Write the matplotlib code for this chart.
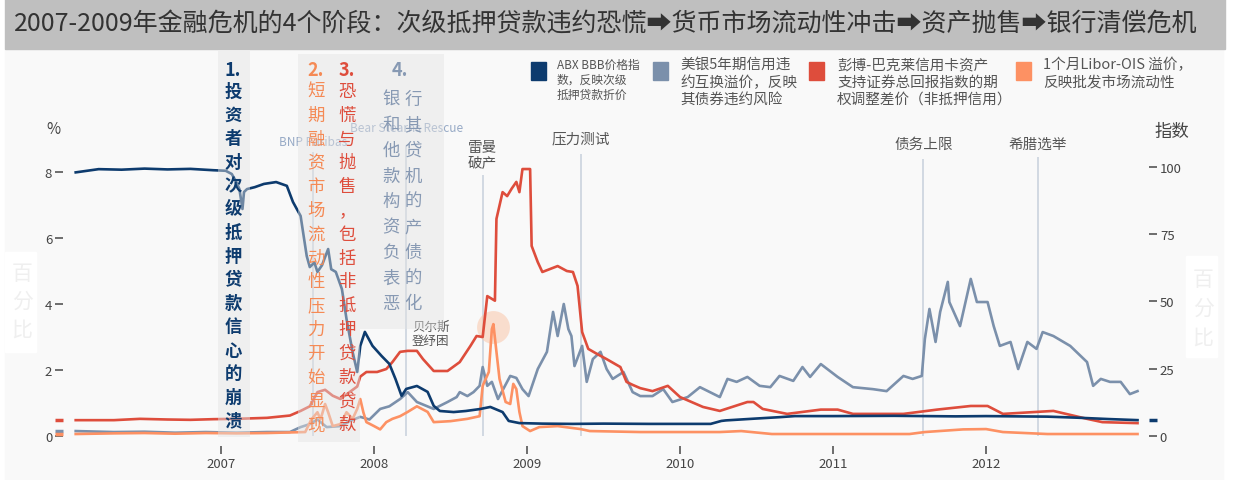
import matplotlib
matplotlib.use("Agg")
import matplotlib.pyplot as plt
from matplotlib.patches import Rectangle
from matplotlib.transforms import blended_transform_factory

plt.rcParams['font.family'] = ['Noto Sans CJK SC', 'DejaVu Sans']

# ABX BBB 价格指数（右轴，指数）
abx = [(2006.05, 98.0), (2006.20, 99.2), (2006.35, 99.0), (2006.50, 99.4), (2006.65, 99.1),
       (2006.80, 99.3), (2006.95, 98.8), (2007.03, 98.6), (2007.07, 97.4), (2007.10, 94.4),
       (2007.12, 91.8), (2007.14, 84.4), (2007.15, 90.7), (2007.17, 91.8), (2007.22, 92.5),
       (2007.28, 93.7), (2007.36, 94.4), (2007.43, 93.0), (2007.47, 87.0), (2007.52, 81.8),
       (2007.54, 74.3), (2007.56, 66.9), (2007.58, 62.8), (2007.61, 64.5), (2007.63, 61.0),
       (2007.66, 63.5), (2007.70, 69.5), (2007.72, 62.0), (2007.75, 61.0), (2007.79, 54.6),
       (2007.82, 43.5), (2007.86, 31.2), (2007.89, 23.8), (2007.91, 33.5), (2007.94, 38.7),
       (2007.99, 33.5), (2008.05, 29.7), (2008.10, 26.8), (2008.14, 21.2), (2008.18, 14.9),
       (2008.21, 17.5), (2008.28, 18.6), (2008.35, 16.4), (2008.39, 11.2), (2008.43, 9.3),
       (2008.52, 8.9), (2008.60, 9.3), (2008.69, 10.0), (2008.76, 10.8), (2008.84, 8.9),
       (2008.88, 5.6), (2008.95, 4.8), (2009.10, 4.6), (2009.30, 4.5), (2009.50, 4.6),
       (2009.80, 4.5), (2010.20, 4.5), (2010.27, 5.6), (2010.30, 5.8), (2010.50, 6.5),
       (2010.65, 7.0), (2010.75, 7.4), (2011.00, 7.4), (2011.40, 7.5), (2011.80, 7.3),
       (2012.00, 7.4), (2012.40, 7.2), (2012.60, 6.8), (2012.80, 6.3), (2012.99, 5.9)]

# 彭博-巴克莱信用卡ABS期权调整差价（左轴，%）
card_oas = [(2006.05, 0.48), (2006.30, 0.48), (2006.47, 0.52), (2006.65, 0.50), (2006.80, 0.49),
            (2006.95, 0.51), (2007.10, 0.52), (2007.30, 0.55), (2007.45, 0.62), (2007.52, 0.76),
            (2007.58, 0.90), (2007.63, 1.33), (2007.68, 1.40), (2007.73, 1.22), (2007.78, 1.12),
            (2007.84, 1.33), (2007.89, 1.50), (2007.91, 1.80), (2007.95, 1.94), (2008.02, 1.94),
            (2008.08, 2.03), (2008.12, 2.24), (2008.17, 2.55), (2008.22, 2.58), (2008.28, 2.58),
            (2008.32, 2.33), (2008.39, 1.97), (2008.48, 1.97), (2008.56, 2.24), (2008.63, 2.73),
            (2008.67, 3.03), (2008.71, 3.00), (2008.74, 4.24), (2008.79, 4.10), (2008.80, 6.58),
            (2008.84, 7.39), (2008.87, 7.27), (2008.90, 7.50), (2008.93, 7.70), (2008.95, 7.39),
            (2008.97, 8.09), (2009.02, 8.09), (2009.03, 5.76), (2009.07, 5.27), (2009.10, 4.97),
            (2009.20, 5.15), (2009.26, 5.00), (2009.30, 4.97), (2009.33, 4.55), (2009.36, 3.15),
            (2009.40, 2.64), (2009.46, 2.48), (2009.52, 2.33), (2009.61, 2.09), (2009.65, 1.64),
            (2009.69, 1.55), (2009.74, 1.45), (2009.82, 1.36), (2009.92, 1.52), (2010.00, 1.18),
            (2010.15, 0.88), (2010.26, 0.76), (2010.44, 1.03), (2010.48, 1.03), (2010.54, 0.82),
            (2010.70, 0.67), (2010.92, 0.80), (2011.03, 0.80), (2011.13, 0.67), (2011.46, 0.67),
            (2011.68, 0.80), (2011.90, 0.91), (2012.01, 0.91), (2012.11, 0.67), (2012.33, 0.73),
            (2012.44, 0.76), (2012.66, 0.52), (2012.76, 0.42), (2012.99, 0.39)]

# 美银5年期CDS溢价（左轴，%）
bac_cds = [(2006.05, 0.15), (2006.30, 0.12), (2006.50, 0.13), (2006.70, 0.10), (2006.90, 0.12),
           (2007.10, 0.10), (2007.30, 0.12), (2007.45, 0.12), (2007.52, 0.27), (2007.58, 0.36),
           (2007.63, 0.50), (2007.69, 0.27), (2007.78, 0.30), (2007.84, 0.45), (2007.91, 0.58),
           (2007.97, 0.50), (2008.04, 0.82), (2008.10, 0.90), (2008.17, 1.12), (2008.22, 1.33),
           (2008.28, 1.03), (2008.39, 0.82), (2008.48, 1.03), (2008.54, 1.18), (2008.56, 1.33),
           (2008.61, 1.21), (2008.65, 1.33), (2008.69, 1.52), (2008.71, 2.09), (2008.74, 1.52),
           (2008.77, 1.64), (2008.81, 1.12), (2008.89, 1.82), (2008.93, 1.76), (2008.97, 1.42),
           (2009.01, 1.21), (2009.07, 2.03), (2009.13, 2.55), (2009.17, 3.76), (2009.20, 3.03),
           (2009.24, 4.00), (2009.27, 3.24), (2009.29, 3.03), (2009.31, 2.12), (2009.36, 2.73),
           (2009.39, 1.64), (2009.43, 2.33), (2009.48, 2.55), (2009.52, 2.03), (2009.56, 1.73),
           (2009.63, 1.94), (2009.69, 1.33), (2009.74, 1.21), (2009.82, 1.21), (2009.89, 1.42),
           (2009.95, 1.03), (2010.05, 1.18), (2010.13, 1.48), (2010.26, 1.18), (2010.31, 1.73),
           (2010.37, 1.64), (2010.44, 1.79), (2010.52, 1.52), (2010.59, 1.48), (2010.65, 1.82),
           (2010.74, 1.67), (2010.80, 2.09), (2010.85, 1.79), (2010.92, 2.18), (2011.03, 1.79),
           (2011.13, 1.48), (2011.26, 1.42), (2011.35, 1.36), (2011.46, 1.82), (2011.52, 1.73),
           (2011.58, 1.82), (2011.60, 2.94), (2011.63, 3.85), (2011.67, 2.85), (2011.70, 3.76),
           (2011.75, 4.67), (2011.76, 4.06), (2011.83, 3.33), (2011.90, 4.76), (2011.94, 4.06),
           (2012.01, 4.06), (2012.05, 3.33), (2012.09, 2.73), (2012.16, 2.85), (2012.21, 2.03),
           (2012.27, 2.85), (2012.33, 2.64), (2012.37, 3.15), (2012.44, 3.03), (2012.55, 2.73),
           (2012.66, 2.24), (2012.70, 1.52), (2012.75, 1.73), (2012.81, 1.64), (2012.88, 1.64),
           (2012.94, 1.27), (2012.99, 1.36)]

# 1个月 Libor-OIS 溢价（左轴，%）
libor_ois = [(2006.05, 0.06), (2006.30, 0.08), (2006.50, 0.09), (2006.70, 0.07), (2006.90, 0.09),
             (2007.10, 0.08), (2007.30, 0.09), (2007.55, 0.12), (2007.59, 0.50), (2007.63, 0.72),
             (2007.65, 0.50), (2007.68, 0.97), (2007.70, 0.72), (2007.73, 0.30), (2007.78, 0.36),
             (2007.82, 0.72), (2007.86, 0.52), (2007.89, 0.82), (2007.91, 1.12), (2007.93, 0.72),
             (2007.95, 0.42), (2008.00, 0.30), (2008.04, 0.20), (2008.08, 0.42), (2008.12, 0.52),
             (2008.17, 0.60), (2008.22, 0.73), (2008.28, 0.90), (2008.35, 0.73), (2008.39, 0.42),
             (2008.50, 0.45), (2008.61, 0.52), (2008.69, 0.60), (2008.71, 1.52), (2008.75, 1.94),
             (2008.77, 3.24), (2008.78, 3.39), (2008.80, 2.55), (2008.82, 1.73), (2008.86, 1.03),
             (2008.89, 0.97), (2008.91, 1.58), (2008.93, 1.42), (2008.95, 0.73), (2008.97, 0.30),
             (2009.02, 0.15), (2009.08, 0.27), (2009.20, 0.30), (2009.35, 0.21), (2009.41, 0.15),
             (2009.74, 0.12), (2010.00, 0.12), (2010.26, 0.12), (2010.40, 0.15), (2010.60, 0.06),
             (2011.00, 0.06), (2011.50, 0.06), (2011.60, 0.12), (2011.85, 0.20), (2012.00, 0.21),
             (2012.11, 0.12), (2012.40, 0.06), (2012.99, 0.06)]

years = [2007, 2008, 2009, 2010, 2011, 2012]
left_ticks = [0, 2, 4, 6, 8]
right_ticks = [0, 25, 50, 75, 100]

events = ["BNP Paribas", "Bear Stearns Rescue", "雷曼\n破产", "压力测试", "债务上限", "希腊选举"]
event_dates = [2007.60, 2008.21, 2008.71, 2009.35, 2011.59, 2012.34]

phases = [
    ("1.", "投资者对次级抵押贷款信心的崩溃"),
    ("2.", "短期融资市场流动性压力开始显现"),
    ("3.", "恐慌与抛售，包括非抵押贷款贷款"),
    ("4.", "银行和其他贷款机构的资产负债表的恶化"),
]
phase_spans = [(2006.98, 2007.19), (2007.50, 2007.70), (2007.70, 2007.91), (2007.91, 2008.46)]

legend_labels = [
    ["ABX BBB价格指", "数，反映次级", "抵押贷款折价"],
    ["美银5年期信用违", "约互换溢价，反映", "其债券违约风险"],
    ["彭博-巴克莱信用卡资产", "支持证券总回报指数的期", "权调整差价（非抵押信用）"],
    ["1个月Libor-OIS 溢价，", "反映批发市场流动性"],
]

NAVY, BLUE, RED, ORANGE = '#0d3b6e', '#7b90ab', '#de4d3c', '#fd9163'
PHASE_COLORS = [NAVY, '#f58a55', RED, '#8799b3']

W, H = 1238, 481
fig = plt.figure(figsize=(W / 100, H / 100), dpi=100)


def fx(x):
    return x / W


def fy(y):
    return 1 - y / H


def ftext(x, y, s, **kw):
    fig.text(fx(x), fy(y), s, **kw)


def frect(x0, y0, x1, y1, **kw):
    fig.patches.append(Rectangle((fx(x0), fy(y1)), (x1 - x0) / W, (y1 - y0) / H,
                                 transform=fig.transFigure, **kw))


# 背景与标题栏
frect(5, 50, 1223, 481, color='#f9f9f9', zorder=-2)
frect(5, 0, 1225, 50, color='#bfbfbf', zorder=-2)
ftext(14, 25, "2007-2009年金融危机的4个阶段：次级抵押贷款违约恐慌➡货币市场流动性冲击➡资产抛售➡银行清偿危机",
      ha='left', va='center', fontsize=18, color='#333333')

ax = fig.add_axes([63 / W, 1 - 447 / H, 1086 / W, 395 / H])
ax.set_facecolor('none')
ax2 = ax.twinx()
ax2.set_facecolor('none')

x0, x1 = 2005.967, 2013.065
ax.set_xlim(x0, x1)
ax.set_ylim(-0.303, 11.667)
ax2.set_ylim(-3.717, 143.12)

for a in (ax, ax2):
    for s in a.spines.values():
        s.set_visible(False)

# 事件竖线
event_tops = [8.6, 8.8, 7.9, 8.55, 8.4, 8.45]
ax.vlines(event_dates, 0, event_tops, color='#cbd3de', lw=1.2, zorder=1)

# 雷曼破产后的高亮圈
ax.scatter([2008.78], [3.30], s=560, color='#f9c7aa', alpha=0.55, lw=0, zorder=2)

for data, color in [(bac_cds, BLUE), (libor_ois, ORANGE), (card_oas, RED)]:
    xs, ys = zip(*data)
    ax.plot(xs, ys, color=color, lw=1.9, zorder=3)
xs, ys = zip(*abx)
ax2.plot(xs, ys, color=NAVY, lw=1.9, zorder=3)

# 坐标轴上的起点/终点标记
bl = blended_transform_factory(ax.transAxes, ax.transData)
for data, color in [(card_oas, RED), (bac_cds, BLUE), (libor_ois, ORANGE)]:
    ax.plot([-0.0074, 0], [data[0][1]] * 2, transform=bl, color=color, lw=2.5,
            solid_capstyle='butt', clip_on=False)
bl2 = blended_transform_factory(ax2.transAxes, ax2.transData)
ax2.plot([1.0, 1.0074], [abx[-1][1]] * 2, transform=bl2, color=NAVY, lw=2.5,
         solid_capstyle='butt', clip_on=False)

ax.set_xticks(years)
ax.set_xticklabels([str(y) for y in years])
ax.set_yticks(left_ticks)
ax2.set_yticks(right_ticks)
tick_kw = dict(length=5.8, width=1.2, color='#555555', labelcolor='#444444', labelsize=9.5, pad=2)
ax.tick_params(axis='both', **tick_kw)
ax2.tick_params(axis='y', **tick_kw)

# 阶段阴影（覆盖在线条上）
bx = blended_transform_factory(ax2.transData, ax2.transAxes)
phase_bottoms = [0.023, 0.010, 0.010, 0.296]
phase_tops = [1.0, 0.992, 0.992, 0.992]
for (s0, s1), b, t in zip(phase_spans, phase_bottoms, phase_tops):
    ax2.add_patch(Rectangle((s0, b), s1 - s0, t - b, transform=bx, color='#e3e3e3',
                            alpha=0.45, lw=0, zorder=5))

# 阶段说明（竖排）
col_x = [233, 316, 347]
for i in range(3):
    num, body = phases[i]
    weight = 'bold' if i == 0 else 'normal'
    ftext(col_x[i], 70, num, ha='center', va='center', fontsize=13, color=PHASE_COLORS[i],
          weight='bold')
    step = 23.5 if i == 0 else 23.8
    for k, ch in enumerate(body):
        ftext(col_x[i], 92 + k * step, ch, ha='center', va='center', fontsize=12.5,
              color=PHASE_COLORS[i], weight=weight)
num, body = phases[3]
ftext(400, 70, num, ha='center', va='center', fontsize=13, color=PHASE_COLORS[3], weight='bold')
for k in range(0, len(body), 2):
    row = k // 2
    for j, ch in enumerate(body[k:k + 2]):
        ftext(391 + j * 22, 100 + row * 25.5, ch, ha='center', va='center', fontsize=12.5,
              color=PHASE_COLORS[3])

# 事件标签
et = blended_transform_factory(ax.transData, fig.transFigure)
event_y = [143, 128, 156, 139, 145, 145]
for name, d, y in zip(events, event_dates, event_y):
    if name.isascii():
        ax.text(d, fy(y), name, transform=et, ha='center', va='center', fontsize=8.5,
                color='#97aac6', zorder=6)
    else:
        ax.text(d, fy(y), name, transform=et, ha='center', va='center', fontsize=10.5,
                color='#555555', linespacing=1.25, zorder=6)
ax.text(2008.37, fy(334), "贝尔斯\n登纾困", transform=et, ha='center', va='center', fontsize=9,
        color='#555555', linespacing=1.1, zorder=6)

# 轴标题
ftext(53, 130, "%", ha='center', va='center', fontsize=11, color='#444444')
ftext(1172, 132, "指数", ha='center', va='center', fontsize=12.5, color='#444444')
frect(5, 253, 36, 353, color='white', zorder=4)
frect(1186, 257, 1217, 358, color='white', zorder=4)
for k, ch in enumerate("百分比"):
    ftext(22, 274 + k * 28, ch, ha='center', va='center', fontsize=15, color='#efefef', zorder=5)
    ftext(1203, 280 + k * 29, ch, ha='center', va='center', fontsize=15, color='#efefef', zorder=5)

# 图例
sq_x = [531, 653, 809, 1016]
txt_x = [557, 680, 837, 1043]
txt_size = [8.5, 10.5, 10.5, 10.5]
line_gap = [15, 17.5, 17.5, 17.5]
for color, lines, sx, tx, fs, g in zip([NAVY, BLUE, RED, ORANGE], legend_labels, sq_x, txt_x,
                                        txt_size, line_gap):
    frect(sx, 63, sx + 15, 81, color=color, zorder=4)
    for k, ln in enumerate(lines):
        ftext(tx, 65 + k * g, ln, ha='left', va='center', fontsize=fs, color='#555555')

fig.savefig("out.png", dpi=100)
